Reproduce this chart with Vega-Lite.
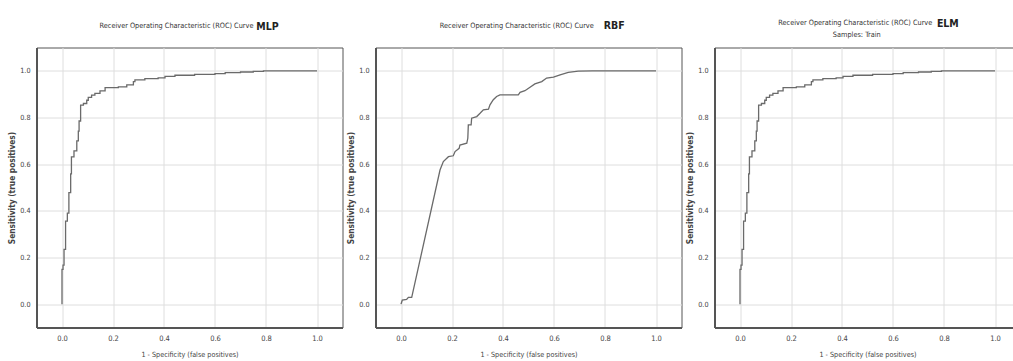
{
  "$schema": "https://vega.github.io/schema/vega-lite/v6.json",
  "padding": {"left": 6.5, "top": 17.5, "right": 0, "bottom": 0},
  "background": "white",
  "config": {
    "font": "DejaVu Sans Condensed, Liberation Sans Narrow, sans-serif",
    "view": {"stroke": "#555555", "strokeWidth": 1},
    "concat": {"spacing": 2},
    "axis": {
      "labelFont": "DejaVu Sans Condensed, Liberation Sans Narrow, sans-serif",
      "titleFont": "DejaVu Sans Condensed, Liberation Sans Narrow, sans-serif",
      "labelColor": "#444444",
      "titleColor": "#444444",
      "gridColor": "#dedede",
      "gridWidth": 1,
      "domainColor": "#555555",
      "domainWidth": 2,
      "ticks": false,
      "tickSize": 0,
      "labelFlush": false,
      "labelOverlap": false
    },
    "axisX": {"labelPadding": 6.5, "titlePadding": 9, "labelFontSize": 7.5, "titleFontSize": 7.2, "titleFontWeight": "normal"},
    "axisY": {"labelPadding": 6.5, "titlePadding": 3, "labelFontSize": 7.2, "titleFontSize": 8.3, "titleFontWeight": "bold"},
    "text": {"font": "DejaVu Sans Condensed, Liberation Sans Narrow, sans-serif", "baseline": "middle", "align": "center"}
  },
  "datasets": {
    "mlp": [
      {"fpr": 0, "tpr": 0}, {"fpr": 0, "tpr": 0.149}, {"fpr": 0.004, "tpr": 0.167}, {"fpr": 0.008, "tpr": 0.235},
      {"fpr": 0.014, "tpr": 0.356}, {"fpr": 0.021, "tpr": 0.39}, {"fpr": 0.027, "tpr": 0.478}, {"fpr": 0.034, "tpr": 0.558},
      {"fpr": 0.037, "tpr": 0.631}, {"fpr": 0.047, "tpr": 0.657}, {"fpr": 0.058, "tpr": 0.70}, {"fpr": 0.064, "tpr": 0.742},
      {"fpr": 0.067, "tpr": 0.785}, {"fpr": 0.073, "tpr": 0.853}, {"fpr": 0.084, "tpr": 0.86}, {"fpr": 0.097, "tpr": 0.874},
      {"fpr": 0.103, "tpr": 0.886}, {"fpr": 0.116, "tpr": 0.896}, {"fpr": 0.129, "tpr": 0.903}, {"fpr": 0.149, "tpr": 0.914},
      {"fpr": 0.169, "tpr": 0.928}, {"fpr": 0.221, "tpr": 0.931}, {"fpr": 0.254, "tpr": 0.94}, {"fpr": 0.28, "tpr": 0.954},
      {"fpr": 0.286, "tpr": 0.961}, {"fpr": 0.325, "tpr": 0.967}, {"fpr": 0.377, "tpr": 0.97}, {"fpr": 0.404, "tpr": 0.976},
      {"fpr": 0.443, "tpr": 0.981}, {"fpr": 0.52, "tpr": 0.985}, {"fpr": 0.60, "tpr": 0.988}, {"fpr": 0.64, "tpr": 0.992},
      {"fpr": 0.70, "tpr": 0.995}, {"fpr": 0.75, "tpr": 0.998}, {"fpr": 0.79, "tpr": 1.0}, {"fpr": 1.0, "tpr": 1.0}
    ],
    "rbf": [
      {"fpr": 0, "tpr": 0}, {"fpr": 0.005, "tpr": 0.017}, {"fpr": 0.022, "tpr": 0.02}, {"fpr": 0.029, "tpr": 0.029},
      {"fpr": 0.042, "tpr": 0.029}, {"fpr": 0.153, "tpr": 0.575}, {"fpr": 0.166, "tpr": 0.611}, {"fpr": 0.186, "tpr": 0.632},
      {"fpr": 0.205, "tpr": 0.636}, {"fpr": 0.212, "tpr": 0.654}, {"fpr": 0.228, "tpr": 0.668}, {"fpr": 0.231, "tpr": 0.682},
      {"fpr": 0.258, "tpr": 0.69}, {"fpr": 0.262, "tpr": 0.711}, {"fpr": 0.264, "tpr": 0.768}, {"fpr": 0.275, "tpr": 0.768},
      {"fpr": 0.277, "tpr": 0.797}, {"fpr": 0.297, "tpr": 0.804}, {"fpr": 0.31, "tpr": 0.818}, {"fpr": 0.323, "tpr": 0.833},
      {"fpr": 0.343, "tpr": 0.836}, {"fpr": 0.349, "tpr": 0.854}, {"fpr": 0.362, "tpr": 0.876}, {"fpr": 0.375, "tpr": 0.89},
      {"fpr": 0.388, "tpr": 0.897}, {"fpr": 0.46, "tpr": 0.897}, {"fpr": 0.467, "tpr": 0.908}, {"fpr": 0.486, "tpr": 0.915},
      {"fpr": 0.506, "tpr": 0.93}, {"fpr": 0.525, "tpr": 0.944}, {"fpr": 0.552, "tpr": 0.954}, {"fpr": 0.571, "tpr": 0.969},
      {"fpr": 0.598, "tpr": 0.973}, {"fpr": 0.624, "tpr": 0.983}, {"fpr": 0.656, "tpr": 0.993}, {"fpr": 0.695, "tpr": 0.999},
      {"fpr": 0.75, "tpr": 1.0}, {"fpr": 1.0, "tpr": 1.0}
    ],
    "elm": [
      {"fpr": 0, "tpr": 0}, {"fpr": 0, "tpr": 0.149}, {"fpr": 0.004, "tpr": 0.167}, {"fpr": 0.008, "tpr": 0.235},
      {"fpr": 0.014, "tpr": 0.356}, {"fpr": 0.021, "tpr": 0.39}, {"fpr": 0.027, "tpr": 0.478}, {"fpr": 0.034, "tpr": 0.558},
      {"fpr": 0.037, "tpr": 0.631}, {"fpr": 0.047, "tpr": 0.657}, {"fpr": 0.058, "tpr": 0.70}, {"fpr": 0.064, "tpr": 0.742},
      {"fpr": 0.067, "tpr": 0.785}, {"fpr": 0.073, "tpr": 0.853}, {"fpr": 0.084, "tpr": 0.86}, {"fpr": 0.097, "tpr": 0.874},
      {"fpr": 0.103, "tpr": 0.886}, {"fpr": 0.116, "tpr": 0.896}, {"fpr": 0.129, "tpr": 0.903}, {"fpr": 0.149, "tpr": 0.914},
      {"fpr": 0.169, "tpr": 0.928}, {"fpr": 0.221, "tpr": 0.931}, {"fpr": 0.254, "tpr": 0.94}, {"fpr": 0.28, "tpr": 0.954},
      {"fpr": 0.286, "tpr": 0.961}, {"fpr": 0.325, "tpr": 0.967}, {"fpr": 0.377, "tpr": 0.97}, {"fpr": 0.404, "tpr": 0.976},
      {"fpr": 0.443, "tpr": 0.981}, {"fpr": 0.52, "tpr": 0.985}, {"fpr": 0.60, "tpr": 0.988}, {"fpr": 0.64, "tpr": 0.992},
      {"fpr": 0.70, "tpr": 0.995}, {"fpr": 0.75, "tpr": 0.998}, {"fpr": 0.79, "tpr": 1.0}, {"fpr": 1.0, "tpr": 1.0}
    ],
    "title_main": [{"t": "Receiver Operating Characteristic (ROC) Curve"}],
    "title_sub": [{"t": "Samples: Train"}],
    "label_mlp": [{"model": "MLP"}],
    "label_rbf": [{"model": "RBF"}],
    "label_elm": [{"model": "ELM"}]
  },
  "hconcat": [
    {
      "width": 306, "height": 280,
      "layer": [
        {
          "data": {"name": "mlp"},
          "mark": {"type": "line", "interpolate": "step-after", "color": "#6a6a6a", "strokeWidth": 1.3},
          "encoding": {
            "x": {"field": "fpr", "type": "quantitative", "scale": {"domain": [-0.1, 1.1], "nice": false, "zero": false},
                  "axis": {"values": [0, 0.2, 0.4, 0.6, 0.8, 1.0], "format": ".1f", "title": "1 - Specificity (false positives)"}},
            "y": {"field": "tpr", "type": "quantitative", "scale": {"domain": [-0.1, 1.1], "nice": false, "zero": false},
                  "axis": {"values": [0, 0.2, 0.4, 0.6, 0.8, 1.0], "format": ".1f", "title": "Sensitivity (true positives)"}},
            "order": [{"field": "fpr"}, {"field": "tpr"}]
          }
        },
        {
          "data": {"name": "title_main"},
          "mark": {"type": "text", "fontSize": 7.3, "color": "#333333"},
          "encoding": {"x": {"datum": 0.449}, "y": {"datum": 1.193}, "text": {"field": "t"}}
        },
        {
          "data": {"name": "label_mlp"},
          "mark": {"type": "text", "fontWeight": "bold", "fontSize": 10.5, "color": "#222222"},
          "encoding": {"x": {"datum": 0.806}, "y": {"datum": 1.189}, "text": {"field": "model"}}
        }
      ]
    },
    {
      "width": 306, "height": 280,
      "layer": [
        {
          "data": {"name": "rbf"},
          "mark": {"type": "line", "interpolate": "linear", "color": "#6a6a6a", "strokeWidth": 1.3},
          "encoding": {
            "x": {"field": "fpr", "type": "quantitative", "scale": {"domain": [-0.1, 1.1], "nice": false, "zero": false},
                  "axis": {"values": [0, 0.2, 0.4, 0.6, 0.8, 1.0], "format": ".1f", "title": "1 - Specificity (false positives)"}},
            "y": {"field": "tpr", "type": "quantitative", "scale": {"domain": [-0.1, 1.1], "nice": false, "zero": false},
                  "axis": {"values": [0, 0.2, 0.4, 0.6, 0.8, 1.0], "format": ".1f", "title": "Sensitivity (true positives)"}},
            "order": [{"field": "fpr"}, {"field": "tpr"}]
          }
        },
        {
          "data": {"name": "title_main"},
          "mark": {"type": "text", "fontSize": 7.3, "color": "#333333"},
          "encoding": {"x": {"datum": 0.454}, "y": {"datum": 1.193}, "text": {"field": "t"}}
        },
        {
          "data": {"name": "label_rbf"},
          "mark": {"type": "text", "fontWeight": "bold", "fontSize": 10.5, "color": "#222222"},
          "encoding": {"x": {"datum": 0.836}, "y": {"datum": 1.193}, "text": {"field": "model"}}
        }
      ]
    },
    {
      "width": 306, "height": 280,
      "layer": [
        {
          "data": {"name": "elm"},
          "mark": {"type": "line", "interpolate": "step-after", "color": "#6a6a6a", "strokeWidth": 1.3},
          "encoding": {
            "x": {"field": "fpr", "type": "quantitative", "scale": {"domain": [-0.1, 1.1], "nice": false, "zero": false},
                  "axis": {"values": [0, 0.2, 0.4, 0.6, 0.8, 1.0], "format": ".1f", "title": "1 - Specificity (false positives)"}},
            "y": {"field": "tpr", "type": "quantitative", "scale": {"domain": [-0.1, 1.1], "nice": false, "zero": false},
                  "axis": {"values": [0, 0.2, 0.4, 0.6, 0.8, 1.0], "format": ".1f", "title": "Sensitivity (true positives)"}},
            "order": [{"field": "fpr"}, {"field": "tpr"}]
          }
        },
        {
          "data": {"name": "title_main"},
          "mark": {"type": "text", "fontSize": 7.3, "color": "#333333"},
          "encoding": {"x": {"datum": 0.452}, "y": {"datum": 1.207}, "text": {"field": "t"}}
        },
        {
          "data": {"name": "title_sub"},
          "mark": {"type": "text", "fontSize": 7.3, "color": "#333333"},
          "encoding": {"x": {"datum": 0.458}, "y": {"datum": 1.155}, "text": {"field": "t"}}
        },
        {
          "data": {"name": "label_elm"},
          "mark": {"type": "text", "fontWeight": "bold", "fontSize": 10.5, "color": "#222222"},
          "encoding": {"x": {"datum": 0.815}, "y": {"datum": 1.2}, "text": {"field": "model"}}
        }
      ]
    }
  ]
}
